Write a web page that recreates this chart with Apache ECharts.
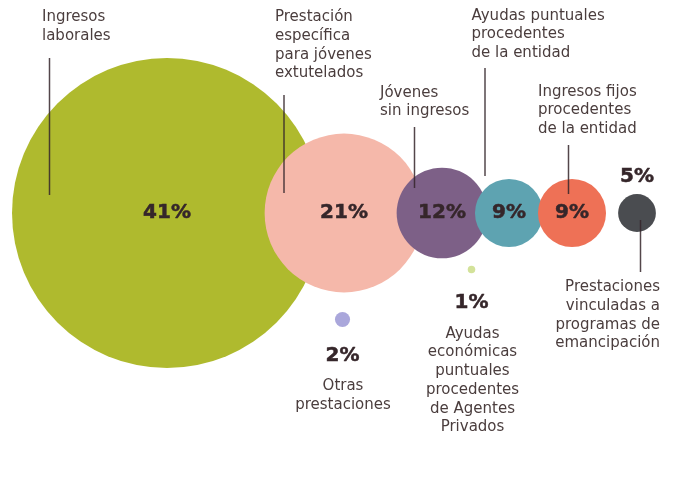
<!DOCTYPE html>
<html>
<head>
<meta charset="utf-8">
<script src="https://cdn.jsdelivr.net/npm/echarts@6/dist/echarts.min.js"></script>
<style>
  html, body { margin: 0; padding: 0; background: #ffffff; }
  #chart { width: 693px; height: 485px; }
</style>
</head>
<body>
<div id="chart"></div>
<script>
// Fuentes de ingresos (% de jóvenes)
const categories = [
  'Ingresos laborales',
  'Prestación específica para jóvenes extutelados',
  'Jóvenes sin ingresos',
  'Ayudas puntuales procedentes de la entidad',
  'Ingresos fijos procedentes de la entidad',
  'Prestaciones vinculadas a programas de emancipación',
  'Otras prestaciones',
  'Ayudas económicas puntuales procedentes de Agentes Privados'
];
const percentages = [41, 21, 12, 9, 9, 5, 2, 1];

// Line breaks used for each category name
const nameLines = [
  ['Ingresos', 'laborales'],
  ['Prestación', 'específica', 'para jóvenes', 'extutelados'],
  ['Jóvenes', 'sin ingresos'],
  ['Ayudas puntuales', 'procedentes', 'de la entidad'],
  ['Ingresos fijos', 'procedentes', 'de la entidad'],
  ['Prestaciones', 'vinculadas a', 'programas de', 'emancipación'],
  ['Otras', 'prestaciones'],
  ['Ayudas', 'económicas', 'puntuales', 'procedentes', 'de Agentes', 'Privados']
];

// ---- layout (pixel space of the plot) ----
const colors = ['#afba2e', '#f5b8aa', '#7d6087', '#5ea3b1', '#ee7156', '#4a4c50', '#aaa7db', '#d3e29a'];
const centers = [[167, 213], [344, 213], [442, 213], [509, 213], [572, 213], [637, 213], [342.5, 319.5], [471.5, 269.5]];
const pxPerPoint = 7.56;           // bubble diameter per percentage point
const pctOffsets = [[0, 0], [0, 0], [0, 0], [0, 0], [0, 0], [0, -36], [0, 36], [0, 33]];
// name label anchor: [x, top, align]
const nameAnchors = [
  [42, 8, 'left'], [275, 8, 'left'], [380, 83.5, 'left'], [471.5, 6.5, 'left'],
  [538, 82.5, 'left'], [660, 278, 'right'], [343, 377, 'center'], [472.5, 324.5, 'center']
];
// leader lines: [x, y1, y2]
const leaders = [
  [49.5, 58, 195], [284, 95, 193], [414.5, 127, 188], [485, 68, 176],
  [568.5, 145, 194], [640.5, 220, 272], null, null
];

const textColor = '#4a3d3d';
const boldColor = '#35262a';
const fontFamily = '"DejaVu Sans", sans-serif';

const chart = echarts.init(document.getElementById('chart'), null, { renderer: 'canvas' });

const seriesData = percentages.map((v, i) => ({
  name: categories[i],
  value: [centers[i][0], centers[i][1], v],
  symbolSize: v * pxPerPoint,
  itemStyle: { color: colors[i], opacity: 1 },
  label: { offset: pctOffsets[i] }
}));

const graphics = [];
leaders.forEach((l) => {
  if (!l) return;
  graphics.push({
    type: 'line',
    shape: { x1: l[0], y1: l[1], x2: l[0], y2: l[2] },
    style: { stroke: 'rgba(53,38,42,0.85)', lineWidth: 1.5 },
    z: 10
  });
});
nameLines.forEach((lines, i) => {
  const a = nameAnchors[i];
  graphics.push({
    type: 'text',
    x: a[0],
    y: a[1],
    style: {
      text: lines.join('\n'),
      fill: textColor,
      font: '15px ' + fontFamily,
      lineHeight: 18.7,
      align: a[2],
      verticalAlign: 'top'
    },
    z: 10
  });
});

chart.setOption({
  animation: false,
  backgroundColor: '#ffffff',
  grid: { left: 0, right: 0, top: 0, bottom: 0 },
  xAxis: { type: 'value', min: 0, max: 693, show: false },
  yAxis: { type: 'value', min: 0, max: 485, inverse: true, show: false },
  series: [{
    type: 'scatter',
    symbol: 'circle',
    data: seriesData,
    itemStyle: { opacity: 1 },
    label: {
      show: true,
      position: 'inside',
      formatter: (p) => p.value[2] + '%',
      color: boldColor,
      fontFamily: fontFamily,
      fontWeight: 'bold',
      fontSize: 20,
      textBorderColor: boldColor,
      textBorderWidth: 0.5
    },
    emphasis: { disabled: true }
  }],
  graphic: graphics
});
</script>
</body>
</html>
